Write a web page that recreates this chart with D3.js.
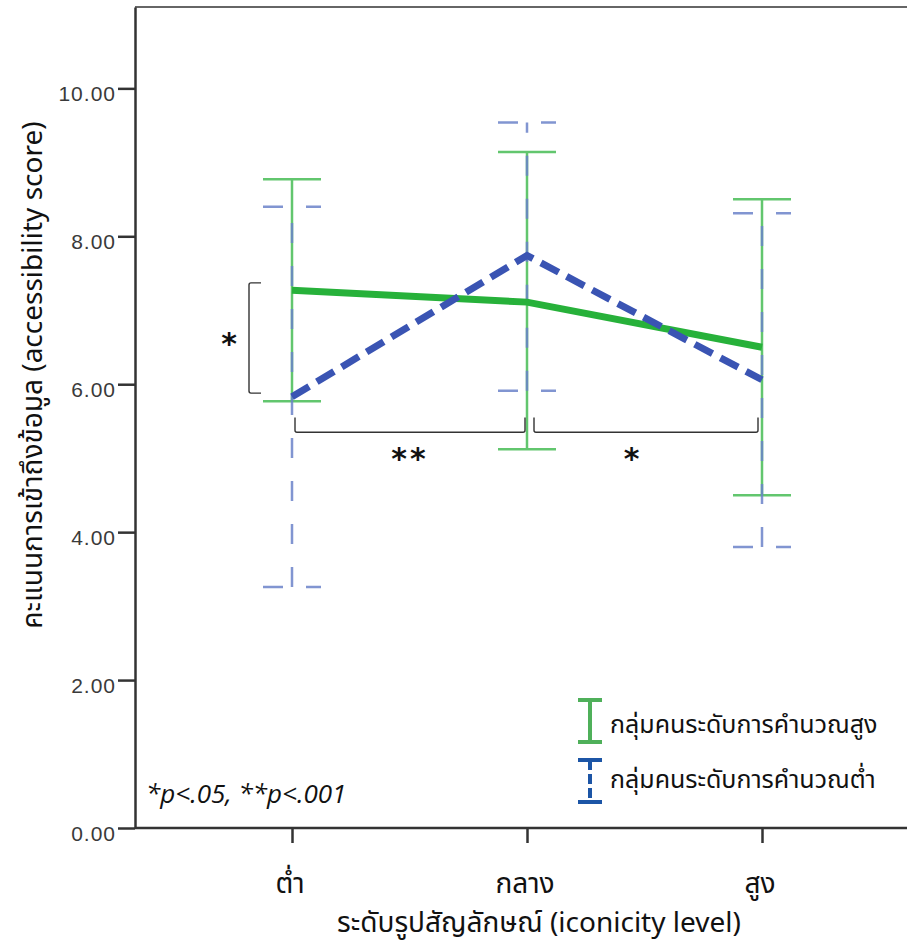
<!DOCTYPE html>
<html>
<head>
<meta charset="utf-8">
<script src="https://cdn.jsdelivr.net/npm/d3@7"></script>
<style>
  body { margin: 0; background: #fff; }
  svg { display: block; }
  .thai { font-family: "Leelawadee UI", Tahoma, "Noto Sans Thai", "Noto Sans", "DejaVu Sans", sans-serif; fill: #111; }
  .axis text { font-family: "Liberation Sans", Arial, sans-serif; font-size: 21px; fill: #3a3a3a; letter-spacing: 1px; }
  .axis path, .axis line { stroke: #333; stroke-width: 2.5; }
</style>
</head>
<body>
<svg id="chart" width="907" height="946"></svg>
<script>
// data
const levels = ["ต่ำ", "กลาง", "สูง"];
const highMean = [7.27, 7.11, 6.50];
const highLower = [5.77, 5.12, 4.50];
const highUpper = [8.77, 9.14, 8.50];
const lowMean = [5.83, 7.74, 6.06];
const lowLower = [3.26, 5.91, 3.80];
const lowUpper = [8.40, 9.54, 8.31];
const yTicks = [0, 2, 4, 6, 8, 10];
const groupNames = ["กลุ่มคนระดับการคำนวณสูง", "กลุ่มคนระดับการคำนวณต่ำ"];
const sigPairs = [["ต่ำ", "กลาง", "**"], ["กลาง", "สูง", "*"]];
const sigWithin = ["ต่ำ", 7.37, 5.88, "*"];
const yTitle = "คะแนนการเข้าถึงข้อมูล (accessibility score)";
const xTitle = "ระดับรูปสัญลักษณ์ (iconicity level)";
const note = "*p<.05, **p<.001";

const svg = d3.select("#chart");
const plotLeft = 135, plotRight = 907, plotTop = 7, plotBottom = 828;

const x = d3.scalePoint().domain(levels).range([292, 762]);
const y = d3.scaleLinear().domain([0, 11.1]).range([plotBottom, plotTop]);

const series = [
    {name: groupNames[0], mean: highMean, lo: highLower, hi: highUpper,
     whisker: "#62c66e", line: "#27b13a", dash: null, lineDash: null},
    {name: groupNames[1], mean: lowMean, lo: lowLower, hi: lowUpper,
     whisker: "#6b82c9", line: "#3a54b3", dash: "20,23", lineDash: "20,9"}
];

/* FRAME + AXES
 */
svg.append("line")
    .attr("x1", plotLeft).attr("x2", plotRight)
    .attr("y1", plotTop).attr("y2", plotTop)
    .attr("stroke", "#666").attr("stroke-width", 2);

const yAxis = svg.append("g")
    .attr("class", "axis")
    .attr("transform", `translate(${plotLeft},0)`)
    .call(d3.axisLeft(y).tickValues(yTicks).tickFormat(d3.format(".2f"))
          .tickSize(17).tickSizeOuter(0).tickPadding(2));
yAxis.selectAll("text").attr("dy", "0.58em");

const xAxis = svg.append("g")
    .attr("class", "axis")
    .attr("transform", `translate(0,${plotBottom})`)
    .call(d3.axisBottom(x).tickSize(15).tickSizeOuter(0));
xAxis.select(".domain").remove();
xAxis.selectAll("text").remove();
xAxis.append("line")
    .attr("x1", plotLeft).attr("x2", plotRight)
    .attr("stroke", "#333").attr("stroke-width", 2.5);

svg.append("g").selectAll("text")
    .data(levels)
    .enter().append("text")
    .attr("class", "thai")
    .attr("x", (d) => x(d) - 2)
    .attr("y", 893)
    .attr("text-anchor", "middle")
    .attr("font-size", 28)
    .text((d) => d);

svg.append("text")
    .attr("class", "thai")
    .attr("x", 539).attr("y", 932)
    .attr("text-anchor", "middle")
    .attr("font-size", 28)
    .text(xTitle);

svg.append("text")
    .attr("class", "thai")
    .attr("transform", "translate(42,375) rotate(-90)")
    .attr("text-anchor", "middle")
    .attr("font-size", 28)
    .text(yTitle);

/* ERROR BARS
 */
const capHalf = 29;
series.forEach(function(s) {
    const g = svg.append("g")
	  .attr("stroke", s.whisker)
	  .attr("stroke-width", 2.5)
	  .attr("fill", "none")
	  .attr("stroke-opacity", s.dash ? 0.85 : 1);
    levels.forEach(function(lev, i) {
	const cx = x(lev);
	g.append("line")
	    .attr("x1", cx).attr("x2", cx)
	    .attr("y1", y(s.lo[i])).attr("y2", y(s.hi[i]))
	    .attr("stroke-dasharray", s.dash);
	[s.lo[i], s.hi[i]].forEach(function(v) {
	    g.append("line")
		.attr("x1", cx - capHalf).attr("x2", cx + capHalf)
		.attr("y1", y(v)).attr("y2", y(v))
		.attr("stroke-dasharray", s.dash);
	});
    });
});

/* MEAN LINES
 */
const line = d3.line()
      .x((d, i) => x(levels[i]))
      .y((d) => y(d));

series.forEach(function(s) {
    svg.append("path")
	.attr("d", line(s.mean))
	.attr("fill", "none")
	.attr("stroke", s.line)
	.attr("stroke-width", 7)
	.attr("stroke-dasharray", s.lineDash);
});

/* SIGNIFICANCE MARKS
 */
const bracket = svg.append("g")
      .attr("fill", "none")
      .attr("stroke", "#333")
      .attr("stroke-width", 1.4);

const bx = x(sigWithin[0]) - 43;
const by1 = y(sigWithin[1]), by2 = y(sigWithin[2]);
bracket.append("path")
    .attr("d", `M${bx + 12},${by1} H${bx + 2} Q${bx},${by1} ${bx},${by1 + 2}
V${by2 - 2} Q${bx},${by2} ${bx + 2},${by2} H${bx + 12}`);
svg.append("text")
    .attr("x", bx - 20).attr("y", (by1 + by2) / 2 + 16)
    .attr("text-anchor", "middle")
    .attr("font-family", "DejaVu Sans, sans-serif")
    .attr("font-weight", "bold")
    .attr("font-size", 30)
    .attr("fill", "#111")
    .text(sigWithin[3]);

const pairLevel = y(5.35), pairTop = y(5.55);
const pairInset = [[3, -2], [7, -4]];
const labelShift = [0, -13];
sigPairs.forEach(function(p, i) {
    const x1 = x(p[0]) + pairInset[i][0], x2 = x(p[1]) + pairInset[i][1];
    bracket.append("path")
	.attr("d", `M${x1},${pairTop} V${pairLevel - 2} Q${x1},${pairLevel} ${x1 + 2},${pairLevel}
H${x2 - 2} Q${x2},${pairLevel} ${x2},${pairLevel - 2} V${pairTop}`);
    svg.append("text")
	.attr("x", (x1 + x2) / 2 + labelShift[i])
	.attr("y", pairLevel + 37)
	.attr("text-anchor", "middle")
	.attr("font-family", "DejaVu Sans, sans-serif")
	.attr("font-weight", "bold")
	.attr("font-size", 30)
	.attr("letter-spacing", 3)
	.attr("fill", "#111")
	.text(p[2]);
});

/* NOTE + LEGEND
 */
svg.append("text")
    .attr("x", 146).attr("y", 803)
    .attr("font-family", "Open Sans, sans-serif")
    .attr("font-style", "italic")
    .attr("font-size", 26)
    .attr("fill", "#111")
    .text(note);

const legendColors = ["#4fb05a", "#1c55a6"];
const legend = svg.append("g").selectAll("g")
      .data(groupNames)
      .enter().append("g")
      .attr("transform", (d, i) => `translate(590,${700 + i * 60})`);

legend.append("line")
    .attr("y1", 0).attr("y2", 42)
    .attr("stroke", (d, i) => legendColors[i])
    .attr("stroke-width", 4)
    .attr("stroke-dasharray", (d, i) => i ? "10,4" : null);
[0, 42].forEach(function(cy) {
    legend.append("line")
	.attr("x1", -12).attr("x2", 12)
	.attr("y1", cy).attr("y2", cy)
	.attr("stroke", (d, i) => legendColors[i])
	.attr("stroke-width", 4);
});
legend.append("text")
    .attr("class", "thai")
    .attr("x", 20).attr("y", (d, i) => i ? 28 : 33)
    .attr("font-size", 25)
    .text((d) => d);
</script>
</body>
</html>
